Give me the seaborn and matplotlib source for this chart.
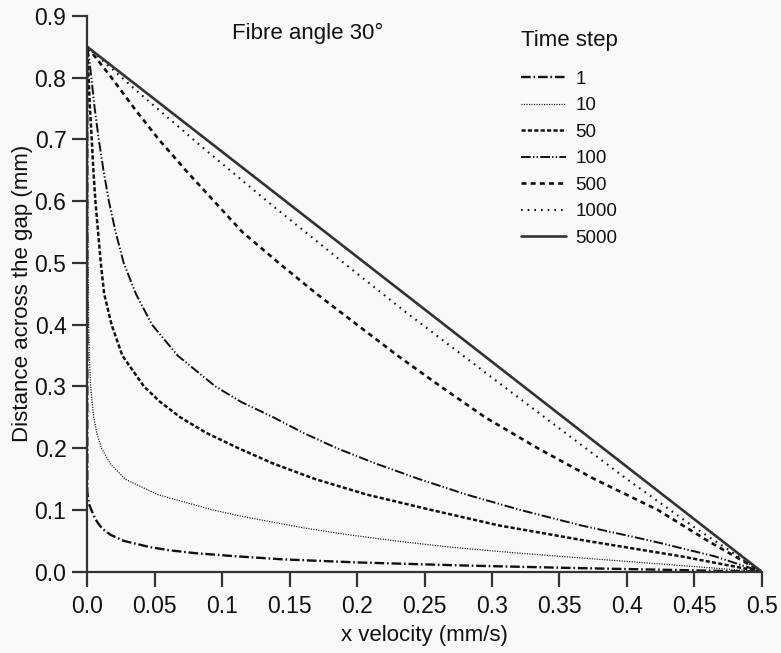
import numpy as np
import pandas as pd
import matplotlib
matplotlib.use("Agg")
import matplotlib.pyplot as plt
import seaborn as sns

# ---- data ----
time_steps = ["1", "10", "50", "100", "500", "1000", "5000"]

y_1 = [0.85, 0.13, 0.12, 0.11, 0.10, 0.09, 0.08, 0.07, 0.06, 0.05, 0.04, 0.035, 0.03, 0.025, 0.02, 0.015, 0.01, 0.006, 0.003, 0.0]
v_1 = [0.0, 0.0, 0.0005, 0.0012, 0.003, 0.005, 0.0075, 0.011, 0.017, 0.027, 0.046, 0.060, 0.080, 0.110, 0.145, 0.200, 0.280, 0.360, 0.430, 0.5]

y_10 = [0.85, 0.5, 0.4, 0.35, 0.3, 0.275, 0.25, 0.225, 0.2, 0.175, 0.15, 0.125, 0.1, 0.09, 0.08, 0.07, 0.06, 0.05, 0.04, 0.03, 0.02, 0.01, 0.0]
v_10 = [0.0, 0.0005, 0.001, 0.0015, 0.0025, 0.0035, 0.0048, 0.007, 0.0105, 0.017, 0.028, 0.052, 0.093, 0.114, 0.138, 0.163, 0.193, 0.228, 0.268, 0.320, 0.380, 0.440, 0.5]

y_50 = [0.85, 0.8, 0.75, 0.7, 0.65, 0.6, 0.55, 0.5, 0.45, 0.4, 0.35, 0.3, 0.275, 0.25, 0.225, 0.2, 0.175, 0.15, 0.125, 0.1, 0.075, 0.05, 0.025, 0.0]
v_50 = [0.0, 0.001, 0.002, 0.0033, 0.0045, 0.006, 0.008, 0.010, 0.0125, 0.018, 0.026, 0.042, 0.054, 0.069, 0.088, 0.112, 0.138, 0.169, 0.207, 0.255, 0.305, 0.370, 0.440, 0.5]

y_100 = [0.85, 0.83, 0.8, 0.75, 0.7, 0.65, 0.6, 0.55, 0.5, 0.45, 0.4, 0.35, 0.3, 0.275, 0.25, 0.225, 0.2, 0.175, 0.15, 0.125, 0.1, 0.075, 0.05, 0.025, 0.0]
v_100 = [0.0, 0.0015, 0.003, 0.0055, 0.0085, 0.012, 0.016, 0.021, 0.027, 0.036, 0.048, 0.067, 0.095, 0.114, 0.138, 0.160, 0.185, 0.214, 0.246, 0.281, 0.321, 0.366, 0.418, 0.465, 0.5]

y_500 = [0.85, 0.8, 0.75, 0.7, 0.65, 0.6, 0.55, 0.5, 0.45, 0.4, 0.35, 0.3, 0.25, 0.2, 0.15, 0.1, 0.05, 0.0]
v_500 = [0.0, 0.018, 0.035, 0.053, 0.073, 0.094, 0.115, 0.142, 0.170, 0.200, 0.230, 0.262, 0.295, 0.334, 0.376, 0.423, 0.460, 0.5]

y_1000 = [0.85, 0.780, 0.688, 0.597, 0.509, 0.424, 0.321, 0.232, 0.150, 0.072, 0.0]
v_1000 = [0.0, 0.036, 0.085, 0.135, 0.185, 0.234, 0.296, 0.350, 0.400, 0.450, 0.5]

y_5000 = [0.85, 0.0]
v_5000 = [0.0, 0.5]

x_ticks = [0.0, 0.05, 0.1, 0.15, 0.2, 0.25, 0.3, 0.35, 0.4, 0.45, 0.5]
x_tick_labels = ["0.0", "0.05", "0.1", "0.15", "0.2", "0.25", "0.3", "0.35", "0.4", "0.45", "0.5"]
y_ticks = [0.0, 0.1, 0.2, 0.3, 0.4, 0.5, 0.6, 0.7, 0.8, 0.9]
y_tick_labels = ["0.0", "0.1", "0.2", "0.3", "0.4", "0.5", "0.6", "0.7", "0.8", "0.9"]

series_v = [v_1, v_10, v_50, v_100, v_500, v_1000, v_5000]
series_y = [y_1, y_10, y_50, y_100, y_500, y_1000, y_5000]

frames = []
for ts, vv, yy in zip(time_steps, series_v, series_y):
    frames.append(pd.DataFrame({"velocity": vv, "distance": yy, "Time step": ts}))
df = pd.concat(frames, ignore_index=True)

# ---- styles ----
styles = {
    "1":    dict(ls=(0, (7, 2, 1.2, 2)), lw=1.7, color="#111111"),
    "10":   dict(ls=(0, (0.8, 1.0)), lw=0.9, color="#111111"),
    "50":   dict(ls=(0, (3.0, 1.6)), lw=1.8, color="#111111"),
    "100":  dict(ls=(0, (7, 1.6, 1.0, 1.6, 1.0, 1.6)), lw=1.4, color="#111111"),
    "500":  dict(ls=(0, (3.6, 3.0)), lw=1.9, color="#111111"),
    "1000": dict(ls=(0, (1.2, 3.6)), lw=1.5, color="#111111"),
    "5000": dict(ls="-", lw=1.9, color="#333333"),
}

sns.set_theme(style="ticks")
plt.rcParams["font.family"] = ["Liberation Sans", "DejaVu Sans"]
plt.rcParams["lines.scale_dashes"] = False

bg = "#f9f9f9"
fig = plt.figure(figsize=(7.81, 6.53), dpi=100, facecolor=bg)
ax = fig.add_axes([87.3 / 781, 1 - 571.7 / 653, (761.7 - 87.3) / 781, (571.7 - 16) / 653])
ax.set_facecolor(bg)

for ts in time_steps:
    sub = df[df["Time step"] == ts]
    st = styles[ts]
    sns.lineplot(data=sub, x="velocity", y="distance", ax=ax, sort=False,
                 estimator=None, color=st["color"], linestyle=st["ls"],
                 linewidth=st["lw"], label=ts)

ax.set_xlim(0, 0.5)
ax.set_ylim(0, 0.9)
ax.set_xticks(x_ticks)
ax.set_xticklabels(x_tick_labels)
ax.set_yticks(y_ticks)
ax.set_yticklabels(y_tick_labels)

for s in ["top", "right"]:
    ax.spines[s].set_visible(False)
for s in ["left", "bottom"]:
    ax.spines[s].set_color("#333333")
    ax.spines[s].set_linewidth(1.6)

ax.tick_params(axis="both", direction="out", length=11, width=1.6,
               color="#333333", labelsize=16.5, labelcolor="#111111")
ax.tick_params(axis="x", pad=6)
ax.tick_params(axis="y", pad=4)

ax.set_xlabel("x velocity (mm/s)", fontsize=16, color="#111111", labelpad=5)
ax.set_ylabel("Distance across the gap (mm)", fontsize=16, color="#111111", labelpad=1)

ax.text(0.1073, 0.862, "Fibre angle 30°", fontsize=16, color="#111111",
        ha="left", va="baseline")

leg = ax.legend(title="Time step", loc="upper left", frameon=False,
                bbox_to_anchor=(521 / 781, 1 - 30 / 653), bbox_transform=fig.transFigure,
                borderaxespad=0, borderpad=0, fontsize=13.5, title_fontsize=16,
                handlelength=2.4, handletextpad=0.5, labelspacing=0.5)
leg._legend_box.sep = 14
for t in leg.get_texts():
    t.set_color("#111111")
leg.get_title().set_color("#111111")

fig.savefig("out.png", dpi=100, facecolor=bg)
